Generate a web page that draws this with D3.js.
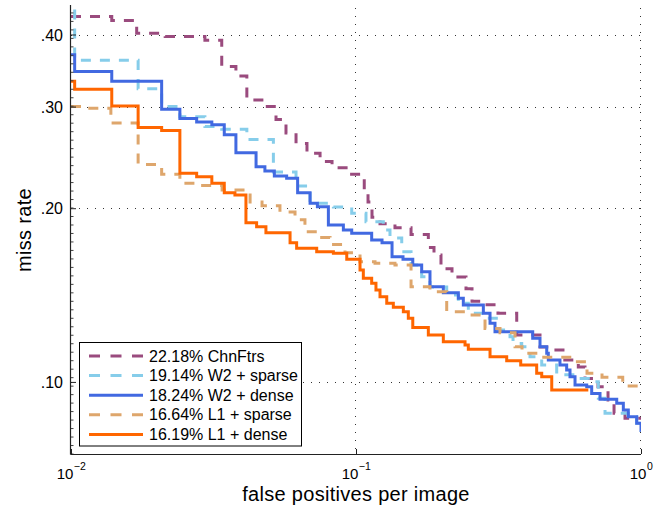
<!DOCTYPE html>
<html>
<head>
<meta charset="utf-8">
<script src="https://cdn.jsdelivr.net/npm/d3@7"></script>
<style>
  body { margin: 0; background: #fff; }
  svg { font-family: "Liberation Sans", Arial, Helvetica, sans-serif; }
</style>
</head>
<body>
<div id="chart"></div>
<script>
// curves: [false positives per image, miss rate], one level per step
var chnFtrs = [
  [0.0100, 0.430], [0.0139, 0.423], [0.0170, 0.402], [0.0214, 0.397], [0.0295, 0.391],
  [0.0338, 0.352], [0.0379, 0.339], [0.0414, 0.308], [0.0479, 0.300], [0.0524, 0.285],
  [0.0568, 0.270], [0.0616, 0.259], [0.0673, 0.249], [0.0748, 0.241], [0.0824, 0.235],
  [0.0937, 0.229], [0.1069, 0.214], [0.1102, 0.205], [0.1138, 0.193], [0.1214, 0.188],
  [0.1370, 0.185], [0.1560, 0.180], [0.1794, 0.171], [0.1878, 0.166], [0.1987, 0.157],
  [0.2172, 0.152], [0.2432, 0.145], [0.2553, 0.138], [0.2836, 0.136], [0.3149, 0.1315],
  [0.3664, 0.1206], [0.4422, 0.1149], [0.4862, 0.1136], [0.5324, 0.1091], [0.6026, 0.1061],
  [0.6361, 0.1014], [0.7067, 0.0981], [0.7661, 0.0930], [0.8043, 0.0882], [0.8788, 0.0865],
  [1.0, 0.0865]
];
var w2Sparse = [
  [0.0100, 0.470], [0.0103, 0.361], [0.0172, 0.322], [0.0208, 0.300], [0.0241, 0.288],
  [0.0295, 0.277], [0.0338, 0.274], [0.0414, 0.263], [0.0513, 0.231], [0.0616, 0.2185],
  [0.0690, 0.204], [0.0833, 0.201], [0.0966, 0.196], [0.1084, 0.1895], [0.1247, 0.1834],
  [0.1316, 0.1776], [0.1447, 0.1681], [0.1560, 0.1595], [0.1700, 0.1522], [0.1818, 0.1460],
  [0.2081, 0.1414], [0.2286, 0.1369], [0.2478, 0.1315], [0.2798, 0.1289], [0.3149, 0.1230],
  [0.3471, 0.1198], [0.3556, 0.1166], [0.3815, 0.1151], [0.4079, 0.1106], [0.4484, 0.1070],
  [0.5061, 0.1029], [0.5868, 0.1014], [0.6534, 0.1001], [0.7083, 0.0937], [0.7478, 0.0882],
  [0.9025, 0.0870], [0.9658, 0.0848], [1.0, 0.0820]
];
var w2Dense = [
  [0.0100, 0.369], [0.0103, 0.345], [0.0139, 0.332], [0.0208, 0.297], [0.0241, 0.286],
  [0.0276, 0.282], [0.0312, 0.279], [0.0345, 0.268], [0.0379, 0.2495], [0.0446, 0.236],
  [0.0479, 0.232], [0.0517, 0.2275], [0.0571, 0.2254], [0.0624, 0.2127], [0.0690, 0.2040],
  [0.0732, 0.2012], [0.0800, 0.1870], [0.0903, 0.1834], [0.0966, 0.1809], [0.1135, 0.1761],
  [0.1234, 0.1742], [0.1338, 0.1648], [0.1462, 0.1632], [0.1582, 0.1595], [0.1700, 0.1552],
  [0.1818, 0.1462], [0.2025, 0.1427], [0.2286, 0.1396], [0.2380, 0.1359], [0.2798, 0.1315],
  [0.2953, 0.1264], [0.3074, 0.1222], [0.4169, 0.1190], [0.4422, 0.1151], [0.4669, 0.1121],
  [0.4729, 0.1091], [0.5196, 0.1070], [0.5485, 0.1049], [0.5635, 0.1021], [0.5868, 0.0988],
  [0.6450, 0.0981], [0.6714, 0.0955], [0.7181, 0.0933], [0.8219, 0.0918], [0.8670, 0.0894],
  [0.9025, 0.0870], [0.9658, 0.0848], [1.0, 0.0820]
];
var l1Sparse = [
  [0.0100, 0.300], [0.0112, 0.298], [0.0138, 0.281], [0.0172, 0.238], [0.0208, 0.229],
  [0.0241, 0.221], [0.0284, 0.219], [0.0339, 0.215], [0.0425, 0.205], [0.0468, 0.202],
  [0.0541, 0.197], [0.0611, 0.191], [0.0662, 0.182], [0.0736, 0.178], [0.0811, 0.173],
  [0.0915, 0.1675], [0.1033, 0.1616], [0.1166, 0.1605], [0.1370, 0.1595], [0.1560, 0.1462],
  [0.1818, 0.1433], [0.2081, 0.1323], [0.2512, 0.1306], [0.2836, 0.1238], [0.3201, 0.1217],
  [0.3614, 0.1151], [0.3824, 0.1121], [0.4351, 0.1103], [0.5868, 0.1084], [0.6465, 0.1035],
  [0.7298, 0.1019], [0.8628, 0.0984], [1.0, 0.0984]
];
var l1Dense = [
  [0.0100, 0.332], [0.0103, 0.3215], [0.0139, 0.3007], [0.0172, 0.2759], [0.0208, 0.2726],
  [0.0241, 0.2299], [0.0276, 0.2268], [0.0312, 0.2209], [0.0345, 0.2127], [0.0376, 0.2108],
  [0.0411, 0.1888], [0.0448, 0.1858], [0.0483, 0.1813], [0.0587, 0.1742], [0.0619, 0.1704],
  [0.0728, 0.1681], [0.0833, 0.1671], [0.0928, 0.1632], [0.1033, 0.1563], [0.1061, 0.1512],
  [0.1135, 0.1482], [0.1175, 0.1443], [0.1214, 0.1405], [0.1282, 0.1369], [0.1352, 0.1347],
  [0.1466, 0.1323], [0.1526, 0.1289], [0.1582, 0.1243], [0.1794, 0.1206], [0.2025, 0.1174],
  [0.2413, 0.1159], [0.2478, 0.1139], [0.2953, 0.1106], [0.3379, 0.1088], [0.3784, 0.1070],
  [0.4305, 0.1035], [0.4484, 0.1021], [0.4862, 0.0968], [0.6534, 0.0968]
];

var seriesNames = ["22.18% ChnFtrs", "19.14% W2 + sparse", "18.24% W2 + dense", "16.64% L1 + sparse", "16.19% L1 + dense"];
var seriesData = [chnFtrs, w2Sparse, w2Dense, l1Sparse, l1Dense];
var seriesColors = ["#9a4b7e", "#86cdea", "#4169e1", "#dea66c", "#ff6600"];
var seriesDashed = [true, true, false, true, false];

var xTicks = [0.01, 0.1, 1];
var xExponents = ["\u22122", "\u22121", "0"];
var yTicks = [0.1, 0.2, 0.3, 0.4];

var width = 665, height = 511;
var plotLeft = 71, plotRight = 641, plotTop = 5, plotBottom = 454;

var svg = d3.select("#chart").append("svg")
    .attr("width", width).attr("height", height);

var x = d3.scaleLog().domain([0.01, 1]).range([plotLeft, plotRight]);
var y = d3.scaleLog().domain([0.075, 0.45]).range([plotBottom, plotTop]);

svg.append("clipPath").attr("id", "plot")
  .append("rect")
    .attr("x", plotLeft).attr("y", plotTop)
    .attr("width", plotRight - plotLeft).attr("height", plotBottom - plotTop);

// dotted grid
var grid = svg.append("g")
    .attr("stroke", "#333")
    .attr("stroke-width", 1)
    .attr("stroke-dasharray", "1,7");

grid.selectAll(".gy")
    .data(yTicks)
    .join("line")
    .attr("x1", plotLeft).attr("x2", plotRight)
    .attr("y1", d => Math.round(y(d)) + 0.5)
    .attr("y2", d => Math.round(y(d)) + 0.5);

grid.selectAll(".gx")
    .data(xTicks.slice(1))
    .join("line")
    .attr("x1", d => Math.round(x(d)) - 0.5)
    .attr("x2", d => Math.round(x(d)) - 0.5)
    .attr("y1", plotTop + 3).attr("y2", plotBottom);

// curves
var line = d3.line()
    .x(d => x(d[0]))
    .y(d => y(d[1]))
    .curve(d3.curveStepAfter);

svg.append("g")
    .attr("clip-path", "url(#plot)")
    .selectAll("path")
    .data(seriesData)
    .join("path")
    .attr("d", line)
    .attr("fill", "none")
    .attr("stroke", (d, i) => seriesColors[i])
    .attr("stroke-width", 3)
    .attr("stroke-dasharray", (d, i) => seriesDashed[i] ? "10,9" : null);

// y axis
var yAxis = d3.axisLeft(y)
    .tickValues(yTicks)
    .tickSize(-5)
    .tickPadding(8)
    .tickFormat(d => d3.format(".2f")(d).replace(/^0/, ""));

var gy = svg.append("g")
    .attr("transform", `translate(${plotLeft},0)`)
    .call(yAxis);
gy.select(".domain").remove();
gy.selectAll("line").attr("stroke", "#222");
gy.selectAll("text")
    .attr("fill", "#000")
    .style("font-size", "16px")
    .attr("dy", "0.36em");

// minor ticks on the log y axis
var minorY = d3.range(Math.log10(0.075), Math.log10(0.45), 0.0147).map(v => Math.pow(10, v));
svg.append("g")
    .selectAll("line")
    .data(minorY)
    .join("line")
    .attr("x1", plotLeft).attr("x2", plotLeft + 2.5)
    .attr("y1", d => y(d)).attr("y2", d => y(d))
    .attr("stroke", "#444");

// x axis
var xAxis = d3.axisBottom(x)
    .tickValues(xTicks)
    .tickSize(-5)
    .tickFormat("");

var gx = svg.append("g")
    .attr("transform", `translate(0,${plotBottom})`)
    .call(xAxis);
gx.select(".domain").remove();
gx.selectAll("line").attr("stroke", "#222");

// 10^k labels: base and exponent as separate texts, centred together on the tick
var xLabels = svg.append("g")
    .selectAll("g")
    .data(xTicks)
    .join("g");
xLabels.append("text")
    .attr("y", 479)
    .style("font-size", "15px")
    .text("10");
xLabels.append("text")
    .attr("y", 469.5)
    .style("font-size", "10.5px")
    .text((d, i) => xExponents[i]);
xLabels.each(function (d) {
    var g = d3.select(this);
    var bw = g.select("text:nth-child(1)").node().getComputedTextLength();
    var ew = g.select("text:nth-child(2)").node().getComputedTextLength();
    var start = x(d) - (bw + ew) / 2;
    g.select("text:nth-child(1)").attr("x", start);
    g.select("text:nth-child(2)").attr("x", start + bw + 0.5);
});

// axis lines
svg.append("line")
    .attr("x1", plotLeft - 0.5).attr("x2", plotLeft - 0.5)
    .attr("y1", plotTop).attr("y2", plotBottom + 0.5)
    .attr("stroke", "#222").attr("stroke-width", 1.2);
svg.append("line")
    .attr("x1", plotLeft - 0.5).attr("x2", plotRight)
    .attr("y1", plotBottom + 0.5).attr("y2", plotBottom + 0.5)
    .attr("stroke", "#222").attr("stroke-width", 1.2);

// axis titles
svg.append("text")
    .attr("x", (plotLeft + plotRight) / 2)
    .attr("y", 501)
    .attr("text-anchor", "middle")
    .style("font-size", "20px")
    .style("letter-spacing", "0.3px")
    .text("false positives per image");

svg.append("text")
    .attr("transform", "translate(31,230) rotate(-90)")
    .attr("text-anchor", "middle")
    .style("font-size", "20px")
    .style("letter-spacing", "0.3px")
    .text("miss rate");

// legend
var legend = svg.append("g");
legend.append("rect")
    .attr("x", 79.5).attr("y", 342.5)
    .attr("width", 222).attr("height", 103.5)
    .attr("fill", "#fff")
    .attr("stroke", "#000")
    .attr("stroke-width", 1);

var rows = legend.selectAll(".row")
    .data(seriesNames)
    .join("g")
    .attr("transform", (d, i) => `translate(0,${356 + i * 19.6})`);

rows.append("line")
    .attr("x1", 89).attr("x2", 143)
    .attr("stroke", (d, i) => seriesColors[i])
    .attr("stroke-width", 3)
    .attr("stroke-dasharray", (d, i) => seriesDashed[i] ? "11,10.5" : null);

rows.append("text")
    .attr("x", 149)
    .attr("y", 5.5)
    .style("font-size", "16px")
    .text(d => d);
</script>
</body>
</html>
